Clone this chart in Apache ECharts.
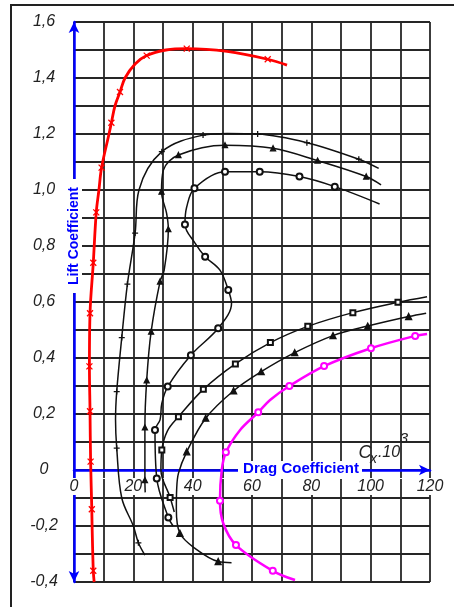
<!DOCTYPE html>
<html>
<head>
<meta charset="utf-8">
<script src="https://cdn.jsdelivr.net/npm/echarts@6/dist/echarts.min.js"></script>
<style>
html,body{margin:0;padding:0;background:#fff;}
#chart{width:454px;height:607px;}
</style>
</head>
<body>
<div id="chart"></div>
<script>
// Tick labels (decimal comma notation)
const xTicks = [0, 20, 40, 60, 80, 100, 120];
const xTickText = ['0', '20', '40', '60', '80', '100', '120'];
const yTicks = [-0.4, -0.2, 0, 0.2, 0.4, 0.6, 0.8, 1.0, 1.2, 1.4, 1.6];
const yTickText = ['-0,4', '-0,2', '0', '0,2', '0,4', '0,6', '0,8', '1,0', '1,2', '1,4', '1,6'];

// Polars: [Cx*10^3, Cz, measured point flag]
const polarRed = [
  [6.8,-0.40,0],[6.5,-0.36,1],[6.1,-0.20,0],[6.0,-0.14,1],[5.6,0.03,1],[5.4,0.21,1],
  [5.2,0.37,1],[5.4,0.56,1],[6.5,0.74,1],[7.5,0.92,1],[8.4,1.00,0],[9.3,1.08,1],
  [11.8,1.20,0],[12.6,1.24,1],[13.8,1.30,0],[15.5,1.35,1],[17.2,1.40,0],[20.6,1.45,0],
  [24.5,1.48,1],[31,1.50,0],[38,1.505,1],[51.6,1.495,0],[65.3,1.467,1],[71.8,1.446,0]
];
const polarPlus = [
  [23.9,-0.304,0],[21.7,-0.26,1],[20,-0.20,0],[16.1,-0.10,0],[14.4,0.078,1],[14.0,0.18,0],
  [14.4,0.28,1],[16.1,0.473,1],[18.0,0.664,1],[20.6,0.846,1],[21.9,1.0,0],[29.6,1.137,1],
  [43.5,1.196,1],[51.6,1.202,0],[61.9,1.20,1],[78.5,1.169,1],[96,1.11,1],[102.7,1.077,0]
];
const polarTri = [
  [24.0,-0.08,0],[23.9,-0.036,1],[23.9,0.152,1],[24.5,0.32,1],[26.0,0.494,1],[29.0,0.673,1],
  [30.4,0.714,0],[31.8,0.86,1],[31.2,0.917,0],[29.5,0.994,1],[30.1,1.07,0],[35.2,1.125,1],
  [50.9,1.16,1],[67.1,1.149,1],[82.1,1.105,1],[98.5,1.048,1],[103.5,1.018,0]
];
const polarCircle = [
  [33.4,-0.20,0],[31.8,-0.17,1],[27.9,-0.03,1],[27.3,0.143,1],[29.0,0.179,0],[29.6,0.238,0],
  [31.6,0.298,1],[39.4,0.41,1],[48.6,0.506,1],[53.1,0.595,0],[52.0,0.643,1],[49.2,0.714,0],
  [44.2,0.762,1],[40.8,0.81,0],[37.4,0.877,1],[38.0,0.94,0],[40.6,1.006,1],[50.9,1.065,1],
  [62.6,1.065,1],[76,1.048,1],[87.9,1.012,1],[103,0.95,0]
];
const polarSquare = [
  [33.8,-0.15,0],[32.4,-0.098,1],[29.3,0.0,0],[29.6,0.071,1],[31.5,0.14,0],[35.2,0.19,1],
  [43.6,0.288,1],[54.4,0.379,1],[66.2,0.455,1],[78.8,0.513,1],[94,0.562,1],[109.2,0.599,1],
  [119,0.619,0]
];
const polarDelta = [
  [53.1,-0.331,0],[48.6,-0.327,1],[40.8,-0.28,0],[35.7,-0.226,1],[34.5,-0.14,0],[34.6,-0.071,0],
  [35.2,-0.012,0],[38.0,0.065,1],[44.4,0.185,1],[53.8,0.283,1],[63.1,0.351,1],[74.4,0.419,1],
  [87.3,0.48,1],[99,0.514,1],[112.8,0.548,1],[118.7,0.56,0]
];
const polarPink = [
  [74.5,-0.393,0],[67,-0.36,1],[54.6,-0.268,1],[50.3,-0.19,0],[49.2,-0.11,1],[49.8,0,0],
  [51.2,0.063,1],[56,0.143,0],[62.1,0.206,1],[66.1,0.25,0],[72.6,0.30,1],[84.3,0.371,1],
  [100.1,0.435,1],[115,0.479,1],[119,0.486,0]
];

const chart = echarts.init(document.getElementById('chart'), null, {renderer: 'canvas'});

function pts(arr, sym) {
  return arr.map(p => ({value: [p[0], p[1]], symbol: p[2] ? sym : 'none'}));
}
function curve(arr, color, width, sym, size, fill) {
  return {
    type: 'line', data: pts(arr, sym), smooth: 0.35, smoothMonotone: null,
    symbolSize: size, showSymbol: true, z: 3,
    lineStyle: {color: color, width: width},
    itemStyle: {color: fill || color, borderColor: color, borderWidth: 1.3},
    emphasis: {disabled: true}, silent: true
  };
}
const crossX = 'path://M0,0L10,10M10,0L0,10';
const crossPlus = 'path://M5,0L5,10M0,5L10,5';

const labelFont = {fontStyle: 'italic', fontFamily: 'Liberation Sans', fontSize: 16, color: '#222'};

chart.setOption({
  animation: false,
  backgroundColor: '#fff',
  grid: {left: 74, right: 24, top: 22, bottom: 25, show: false},
  xAxis: {
    type: 'value', min: 0, max: 120, interval: 10,
    position: 'bottom', offset: -112,
    axisLine: {onZero: false, lineStyle: {color: '#0000ff', width: 2.5}, symbol: ['none', 'arrow'], symbolSize: [8, 11]},
    axisTick: {show: false},
    axisLabel: Object.assign({margin: 8, align: 'center', showMinLabel: true, showMaxLabel: true,
      backgroundColor: '#fff', padding: [1, 2, 0, 2],
      formatter: v => { const i = xTicks.indexOf(Math.round(v)); return i < 0 ? '' : xTickText[i]; }}, labelFont),
    splitLine: {show: true, lineStyle: {color: '#262626', width: 1.8}}
  },
  yAxis: {
    type: 'value', min: -0.4, max: 1.6, interval: 0.1,
    axisLine: {onZero: false, lineStyle: {color: '#0000ff', width: 2.5}, symbol: ['arrow', 'arrow'], symbolSize: [8, 11]},
    axisTick: {show: false},
    axisLabel: Object.assign({margin: 30, align: 'center', showMinLabel: true, showMaxLabel: true,
      formatter: v => { const i = yTicks.findIndex(t => Math.abs(t - v) < 1e-6); return i < 0 ? '' : yTickText[i]; }}, labelFont),
    splitLine: {show: true, lineStyle: {color: '#262626', width: 1.8}}
  },
  series: [
    curve(polarPlus, '#111', 1.5, crossPlus, 6),
    curve(polarTri, '#111', 1.5, 'triangle', 5),
    curve(polarCircle, '#111', 1.5, 'emptyCircle', 6),
    curve(polarSquare, '#111', 1.5, 'emptyRect', 5),
    curve(polarDelta, '#111', 1.5, 'triangle', 6),
    curve(polarRed, '#ff0000', 2.8, crossX, 6),
    curve(polarPink, '#ff00ff', 2.5, 'emptyCircle', 6)
  ],
  graphic: [
    {type: 'polyline', z: 100, shape: {points: [[11, 607], [11, 5], [454, 5]]}, style: {stroke: '#222', lineWidth: 2, fill: null}},
    {type: 'rect', z: 100, shape: {x: 66, y: 179, width: 16, height: 114}, style: {fill: '#fff'}},
    {type: 'text', z: 101, x: 74, y: 236, rotation: Math.PI / 2,
      style: {text: 'Lift Coefficient', fill: '#0000ff', font: 'bold 14px "Liberation Sans"', align: 'center', verticalAlign: 'middle'}},
    {type: 'rect', z: 100, shape: {x: 238, y: 461, width: 124, height: 17}, style: {fill: '#fff'}},
    {type: 'text', z: 101, x: 301, y: 469,
      style: {text: 'Drag Coefficient', fill: '#0000ff', font: 'bold 15px "Liberation Sans"', align: 'center', verticalAlign: 'middle'}},
    {type: 'text', z: 101, x: 365, y: 453, style: {text: 'C', fill: '#222', font: 'italic 18px "Liberation Sans"', align: 'center', verticalAlign: 'middle'}},
    {type: 'text', z: 101, x: 373.5, y: 459, style: {text: 'x', fill: '#222', font: 'italic 14px "Liberation Sans"', align: 'center', verticalAlign: 'middle'}},
    {type: 'text', z: 101, x: 389, y: 452.5, style: {text: '.10', fill: '#222', font: 'italic 16px "Liberation Sans"', align: 'center', verticalAlign: 'middle'}},
    {type: 'text', z: 101, x: 404, y: 439, style: {text: '3', fill: '#222', font: 'italic 15px "Liberation Sans"', align: 'center', verticalAlign: 'middle'}}
  ]
});
</script>
</body>
</html>
